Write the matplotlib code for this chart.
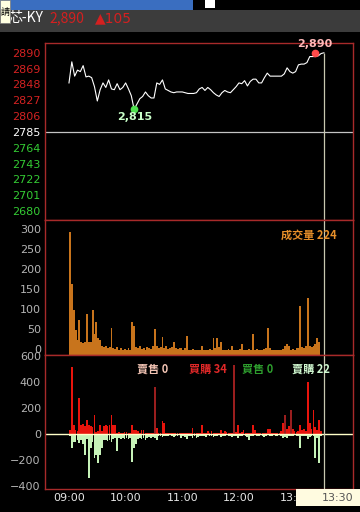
import matplotlib
matplotlib.use("Agg")
import matplotlib.pyplot as plt
import matplotlib.transforms as mtransforms
from matplotlib.patches import Rectangle

# ---- data ----
# last price, one sample every 3 minutes from 09:00
price = [2850, 2878, 2859, 2867, 2865, 2873, 2858, 2859, 2857, 2845,
         2826, 2841, 2850, 2844, 2854, 2842, 2841, 2849, 2841, 2844,
         2850, 2842, 2833, 2815, 2822, 2829, 2832, 2838, 2833, 2830,
         2830, 2850, 2848, 2854, 2842, 2840, 2838, 2837, 2838, 2838,
         2838, 2837, 2836, 2836, 2836, 2837, 2842, 2844, 2840, 2844,
         2841, 2837, 2834, 2832, 2837, 2840, 2838, 2837, 2841, 2845,
         2850, 2849, 2853, 2846, 2852, 2855, 2855, 2850, 2850, 2857,
         2863, 2859, 2859, 2859, 2859, 2859, 2862, 2870, 2865, 2863,
         2865, 2874, 2875, 2875, 2877, 2885, 2885, 2885, 2886, 2889,
         2890]
price_step = 3
ref_price = 2785
high_min, high_price = 260.6, 2890
low_min, low_price = 69.2, 2815

# volume, one bar every 2 minutes
vol = [306, 175, 110, 60, 35, 87, 30, 28, 30, 102,
       30, 32, 112, 50, 82, 40, 35, 20, 18, 22,
       16, 18, 65, 15, 14, 18, 12, 15, 12, 14,
       10, 15, 12, 81, 70, 18, 15, 20, 14, 16,
       12, 18, 15, 14, 20, 63, 20, 16, 18, 43,
       15, 20, 14, 16, 18, 31, 15, 14, 15, 16,
       12, 15, 47, 12, 12, 14, 12, 10, 12, 12,
       20, 12, 10, 12, 14, 12, 40, 15, 40, 18,
       30, 12, 10, 12, 14, 12, 20, 12, 10, 12,
       14, 25, 12, 10, 12, 14, 12, 52, 12, 14,
       12, 10, 12, 14, 15, 67, 15, 12, 10, 12,
       10, 12, 10, 14, 20, 25, 22, 12, 14, 12,
       15, 17, 122, 18, 17, 20, 142, 20, 18, 22,
       25, 42, 30]
vol_step = 2

# inside/outside trades, one bar every 2 minutes
buy = [30, 510, 70, 30, 20, 277, 70, 75, 60, 108,
       70, 60, 50, 146, 15, 20, 70, 20, 60, 65,
       60, 70, 146, 70, 65, 10, 12, 8, 10, 12,
       15, 8, 10, 65, 30, 28, 25, 10, 30, 28,
       8, 5, 10, 8, 5, 360, 45, 10, 8, 95,
       80, 10, 5, 8, 10, 5, 8, 10, 5, 8,
       10, 5, 8, 5, 10, 48, 10, 8, 5, 10,
       70, 10, 8, 20, 10, 20, 8, 5, 10, 8,
       30, 10, 20, 15, 8, 10, 10, 530, 15, 70,
       10, 15, 30, 8, 10, 5, 10, 65, 30, 8,
       10, 5, 8, 10, 8, 35, 35, 10, 8, 5,
       8, 10, 20, 80, 146, 40, 60, 185, 40, 20,
       15, 20, 65, 30, 40, 20, 397, 80, 40, 185,
       55, 30, 108, 25]
sell = [-20, -108, -60, -60, -50, -70, -45, -80, -160, -40,
        -336, -108, -60, -185, -160, -223, -160, -108, -50, -45,
        -55, -50, -65, -40, -30, -128, -30, -40, -35, -40,
        -30, -40, -35, -215, -108, -80, -40, -35, -40, -30,
        -50, -30, -25, -30, -25, -30, -45, -20, -15, -25,
        -20, -15, -20, -10, -20, -25, -15, -20, -10, -30,
        -20, -25, -40, -20, -15, -30, -20, -35, -25, -20,
        -15, -20, -25, -10, -20, -15, -25, -15, -20, -10,
        -25, -15, -20, -10, -15, -20, -25, -15, -20, -30,
        -15, -20, -10, -20, -25, -45, -20, -15, -10, -20,
        -15, -10, -20, -25, -15, -10, -20, -15, -10, -15,
        -20, -10, -15, -30, -25, -30, -20, -15, -20, -10,
        -15, -20, -108, -20, -15, -20, -40, -25, -15, -20,
        -185, -30, -223, -20]
flow_step = 2
dark_buy = [90, 174, 228, 234]   # minutes drawn in dark red

price_ticks = [2890, 2869, 2848, 2827, 2806, 2785, 2764, 2743, 2722, 2701, 2680]
vol_ticks = [0, 50, 100, 150, 200, 250, 300]
flow_ticks = [-400, -200, 0, 200, 400, 600]
time_ticks = [0, 60, 120, 180, 240]
time_labels = ['09:00', '10:00', '11:00', '12:00', '13:00']
cursor_min = 270
cursor_label = '13:30'

name = '芯-KY'
last_txt = '2,890'
chg_txt = '▲105'
vol_txt = '成交量 224'
flow_legend = [('賣售 0', '#f2c4b4', 137), ('買購 34', '#e02828', 189),
               ('買售 0', '#2e9e2e', 242), ('賣購 22', '#d0f8d0', 292)]

# ---- layout helpers (pixel -> figure fraction) ----
W, H = 360, 512
def fx(px):
    return px / W
def fy(py):
    return 1 - py / H

cjk = ['Noto Sans CJK TC', 'DejaVu Sans']
border = '#a82a2a'
xlim = (-25.4, 300.8)

fig = plt.figure(figsize=(3.6, 5.12), dpi=100, facecolor='black')

def panel(top, bottom):
    ax = fig.add_axes([fx(45), fy(bottom), fx(353) - fx(45), fy(top) - fy(bottom)])
    ax.set_facecolor('black')
    for s in ax.spines.values():
        s.set_color(border)
        s.set_linewidth(1)
    ax.set_xlim(*xlim)
    ax.tick_params(length=0, labelsize=8, pad=3)
    ax.set_xticks([])
    return ax

# price panel
ax1 = panel(43, 220)
pm = [i * price_step for i in range(len(price))]
ax1.set_ylim(ref_price - 117, ref_price + 118)
ax1.axhline(ref_price, color='#c4c4c4', lw=0.9)
ax1.plot(pm, price, color='white', lw=0.8)
ax1.vlines(cursor_min, ref_price - 117, price[-1], color='#c8c8b0', lw=0.9)
ax1.plot(high_min, high_price, 'o', color='#ff4a4a', ms=4.5)
ax1.plot(low_min, low_price, 'o', color='#4ee04e', ms=4.5)
ax1.text(high_min, high_price + 5, '2,890', color='#ffb8b8', fontsize=8,
         fontweight='bold', ha='center', va='bottom', clip_on=False)
ax1.text(low_min, low_price - 4, '2,815', color='#c8ffc8', fontsize=8,
         fontweight='bold', ha='center', va='top')
ax1.set_yticks(price_ticks)
ax1.set_yticklabels([str(t) for t in price_ticks])
for t, lab in zip(price_ticks, ax1.get_yticklabels()):
    if t > ref_price:
        lab.set_color('#d42222')
    elif t < ref_price:
        lab.set_color('#34cc34')
    else:
        lab.set_color('white')

# volume panel
ax2 = panel(220, 354.5)
vm = [i * vol_step for i in range(len(vol))]
ax2.set_ylim(0, 336)
ax2.bar(vm, vol, width=vol_step, align='edge', color='#c8741c', lw=0)
ax2.axvline(cursor_min, color='#c8c8b0', lw=0.9)
ax2.set_yticks(vol_ticks)
ax2.tick_params(axis='y', colors='#b4b4b4')
off = mtransforms.ScaledTranslation(0, 5.5 / 100, fig.dpi_scale_trans)
for lab in ax2.get_yticklabels():
    lab.set_transform(lab.get_transform() + off)
ax2.text(fx(337), fy(235), vol_txt, transform=fig.transFigure, color='#e8902a',
         fontsize=8, fontweight='bold', family=cjk, ha='right', va='center')

# buy / sell panel
ax3 = panel(354.5, 489)
fm = [i * flow_step for i in range(len(buy))]
ax3.set_ylim(-423, 608)
buy_colors = ['#9a1e1e' if m in dark_buy else '#e8140c' for m in fm]
ax3.bar(fm, buy, width=1.85, align='edge', color=buy_colors, lw=0)
ax3.bar(fm, sell, width=1.85, align='edge', color='#c6f2b8', lw=0)
ax3.axhline(0, color='#ffffc8', lw=1)
ax3.axvline(cursor_min, color='#c8c8b0', lw=0.9)
ax3.set_yticks(flow_ticks)
ax3.tick_params(axis='y', colors='#b4b4b4')
ax3.set_xticks(time_ticks)
ax3.set_xticklabels(time_labels, color='#e6e6e6')
ax3.tick_params(axis='x', pad=3)
for txt, col, px in flow_legend:
    fig.text(fx(px), fy(369), txt, color=col, fontsize=8, fontweight='bold',
             family=cjk, ha='left', va='center')

# cursor time box under the x axis
fig.add_artist(Rectangle((fx(296), fy(506)), fx(64), fy(489) - fy(506),
                         transform=fig.transFigure, facecolor='#fffbe0',
                         edgecolor='none', zorder=5))
fig.text(fx(338), fy(498), cursor_label, color='#555555', fontsize=8,
         ha='center', va='center', zorder=6)
fig.add_artist(Rectangle((fx(324) - 0.5 / W, fy(489)), 1 / W, fy(480) - fy(489),
                         transform=fig.transFigure, facecolor='#c8c8b0',
                         edgecolor='none', zorder=4))

# header bars
fig.add_artist(Rectangle((0, fy(10)), fx(193), fy(0) - fy(10),
                         transform=fig.transFigure, facecolor='#3a6ec0', edgecolor='none'))
fig.add_artist(Rectangle((fx(205), fy(8)), fx(10), fy(0) - fy(8),
                         transform=fig.transFigure, facecolor='white', edgecolor='none'))
fig.add_artist(Rectangle((0, fy(32)), 1, fy(10) - fy(32),
                         transform=fig.transFigure, facecolor='#3c3c3c', edgecolor='none'))
fig.text(fx(9), fy(18), name, color='white', fontsize=10, family=cjk, va='center')
fig.text(fx(49), fy(18), last_txt, color='#d42020', fontsize=10, family=cjk, va='center')
fig.text(fx(95), fy(18), chg_txt, color='#d42020', fontsize=10,
         family=['DejaVu Sans'], va='center')

# tooltip stub in the corner
fig.add_artist(Rectangle((0, fy(23)), fx(9.5), fy(0) - fy(23),
                         transform=fig.transFigure, facecolor='#ffffe1',
                         edgecolor='#777777', lw=0.5, zorder=7))
fig.text(fx(0.5), fy(12), '請', color='black', fontsize=6.5, family=cjk,
         va='center', zorder=8)

fig.savefig('out.png', dpi=100, facecolor='black')
